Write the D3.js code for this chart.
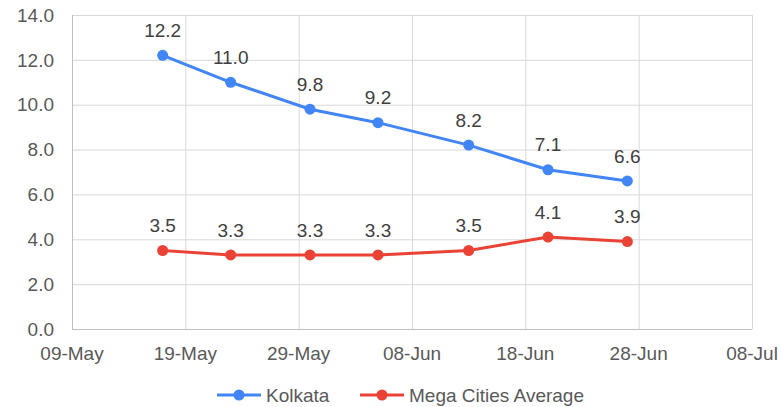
<!DOCTYPE html>
<html>
<head>
<meta charset="utf-8">
<script src="https://cdn.jsdelivr.net/npm/d3@7"></script>
<style>
  body { margin: 0; background: #fff; }
  text { font-family: "Liberation Sans", Arial, sans-serif; }
</style>
</head>
<body>
<div id="chart"></div>
<script>
// Data
var dates = ["2020-05-17", "2020-05-23", "2020-05-30", "2020-06-05", "2020-06-13", "2020-06-20", "2020-06-27"];
var kolkata = [12.2, 11.0, 9.8, 9.2, 8.2, 7.1, 6.6];
var megaCities = [3.5, 3.3, 3.3, 3.3, 3.5, 4.1, 3.9];
var seriesNames = ["Kolkata", "Mega Cities Average"];
var seriesColors = ["#4285F4", "#EA4335"];
var yTicks = [0, 2, 4, 6, 8, 10, 12, 14];
var xTicks = ["2020-05-09", "2020-05-19", "2020-05-29", "2020-06-08", "2020-06-18", "2020-06-28", "2020-07-08"];

var parse = d3.timeParse("%Y-%m-%d");

var margin = {top: 15, right: 28, bottom: 78, left: 72},
    width = 780 - margin.left - margin.right,
    height = 407 - margin.top - margin.bottom;

var svg = d3.select("#chart")
    .append("svg")
        .attr("width", 780)
        .attr("height", 407)
    .append("g")
        .attr("transform", "translate(" + margin.left + "," + margin.top + ")");

var x = d3.scaleTime()
    .domain([parse(xTicks[0]), parse(xTicks[xTicks.length - 1])])
    .range([0, width]);

var y = d3.scaleLinear()
    .domain([0, 14])
    .range([height, 0]);

// Gridlines
svg.append("g")
    .selectAll("line.h")
    .data(yTicks)
    .enter().append("line")
    .attr("x1", 0).attr("x2", width)
    .attr("y1", function(d) { return y(d) + 0.5; })
    .attr("y2", function(d) { return y(d) + 0.5; })
    .style("stroke", "#d9d9d9").style("stroke-width", 1);

svg.append("g")
    .selectAll("line.v")
    .data(xTicks)
    .enter().append("line")
    .attr("x1", function(d) { return x(parse(d)) + 0.5; })
    .attr("x2", function(d) { return x(parse(d)) + 0.5; })
    .attr("y1", 0).attr("y2", height)
    .style("stroke", "#d9d9d9").style("stroke-width", 1);

// Axis lines
svg.append("line")
    .attr("x1", 0.5).attr("x2", 0.5).attr("y1", 0).attr("y2", height)
    .style("stroke", "#bfbfbf");
svg.append("line")
    .attr("x1", 0).attr("x2", width).attr("y1", height + 0.5).attr("y2", height + 0.5)
    .style("stroke", "#bfbfbf");

// Y tick labels
svg.append("g")
    .selectAll("text")
    .data(yTicks)
    .enter().append("text")
    .attr("x", -18)
    .attr("y", function(d) { return y(d); })
    .attr("dy", "0.35em")
    .attr("text-anchor", "end")
    .style("font-size", "19px")
    .style("fill", "#595959")
    .text(function(d) { return d.toFixed(1); });

// X tick labels
var fmt = d3.timeFormat("%d-%b");
svg.append("g")
    .selectAll("text")
    .data(xTicks)
    .enter().append("text")
    .attr("x", function(d) { return x(parse(d)); })
    .attr("y", height + 24)
    .attr("dy", "0.35em")
    .attr("text-anchor", "middle")
    .style("font-size", "19px")
    .style("fill", "#595959")
    .text(function(d) { return fmt(parse(d)); });

// Lines, points and labels
var series = [kolkata, megaCities];
var line = d3.line()
    .x(function(d, i) { return x(parse(dates[i])); })
    .y(function(d) { return y(d); });

series.forEach(function(values, s) {
    var g = svg.append("g");
    g.append("path")
        .datum(values)
        .attr("d", line)
        .style("fill", "none")
        .style("stroke", seriesColors[s])
        .style("stroke-width", 3);

    g.selectAll("circle")
        .data(values)
        .enter().append("circle")
        .attr("cx", function(d, i) { return x(parse(dates[i])); })
        .attr("cy", function(d) { return y(d); })
        .attr("r", 5.5)
        .style("fill", seriesColors[s]);

    g.selectAll("text")
        .data(values)
        .enter().append("text")
        .attr("x", function(d, i) { return x(parse(dates[i])); })
        .attr("y", function(d) { return y(d) - 25; })
        .attr("dy", "0.35em")
        .attr("text-anchor", "middle")
        .style("font-size", "19px")
        .style("fill", "#404040")
        .text(function(d) { return d.toFixed(1); });
});

// Legend
var legendX = [217, 360];
var legend = svg.append("g")
    .attr("transform", "translate(" + (-margin.left) + "," + (395 - margin.top) + ")");
seriesNames.forEach(function(name, s) {
    var lg = legend.append("g").attr("transform", "translate(" + legendX[s] + ",0)");
    lg.append("line")
        .attr("x1", 0).attr("x2", 44).attr("y1", 0).attr("y2", 0)
        .style("stroke", seriesColors[s]).style("stroke-width", 3);
    lg.append("circle")
        .attr("cx", 22).attr("cy", 0).attr("r", 5.5)
        .style("fill", seriesColors[s]);
    lg.append("text")
        .attr("x", 49).attr("y", 0).attr("dy", "0.35em")
        .style("font-size", "19px")
        .style("fill", "#595959")
        .text(name);
});
</script>
</body>
</html>
